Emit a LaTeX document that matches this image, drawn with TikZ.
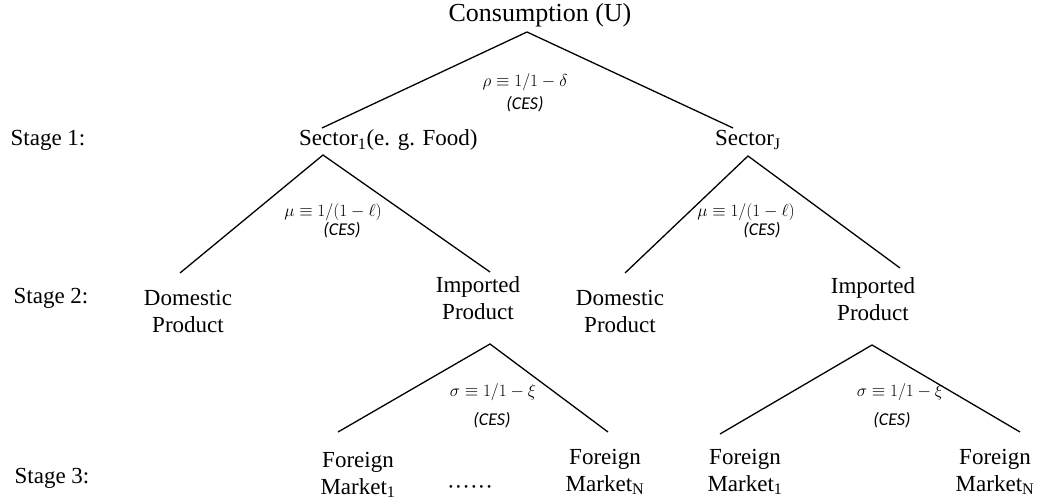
\documentclass[tikz,border=0pt]{standalone}
\usepackage{fontspec}
\setmainfont{Liberation Serif}
\newfontfamily\cesfont{Carlito}
\usetikzlibrary{positioning}

\begin{document}
\begin{tikzpicture}[x=1pt, y=-1pt,
    item/.style={align=center, inner sep=0pt, font=\fontsize{23}{27}\selectfont},
    stage/.style={inner sep=0pt, font=\fontsize{23}{27}\selectfont},
    elas/.style={inner sep=0pt, font=\fontsize{17}{20}\selectfont},
    ces/.style={inner sep=0pt, font=\cesfont\itshape\fontsize{18}{20}\selectfont},
    branch/.style={line width=1.3pt}]
      \useasboundingbox (0,0) rectangle (1044,502);
      %\draw [help lines] (0,0) grid [step=50] (1044,502);

      % level 0 and stage 1
      \node [item, font=\fontsize{26}{30}\selectfont] (cons) at (540,15) {Consumption (U)};
      \node [stage] (st1) at (48,140) {Stage 1:};
      \node [item, anchor=west] (sec1) at (299,140) {Sector\textsubscript{1}(e. g. Food)};
      \node [item, anchor=west] (secJ) at (715,140) {Sector\textsubscript{J}};
      \coordinate (a0) at (527,32);
      \coordinate (e01) at (322,128);
      \coordinate (e0J) at (733,128);
      \draw [branch] (e01) -- (a0) -- (e0J);
      \node [elas] (rho) at (525,82) {$\rho \equiv 1/1-\delta$};
      \node [ces] (ces0) at (525,104) {(CES)};

      % stage 2
      \node [stage] (st2) at (51,298) {Stage 2:};
      \node [item] (dom1) at (188,311) {Domestic\\Product};
      \node [item] (imp1) at (478,298) {Imported\\Product};
      \node [item] (dom2) at (620,311) {Domestic\\Product};
      \node [item] (imp2) at (873,299) {Imported\\Product};
      \coordinate (a1) at (323,155);
      \coordinate (e1d) at (180,273);
      \coordinate (e1i) at (490,272);
      \draw [branch] (e1d) -- (a1) -- (e1i);
      \node [elas] (mu1) at (333,212) {$\mu \equiv 1/(1-\ell)$};
      \node [ces] (ces1) at (342,230) {(CES)};
      \coordinate (a2) at (748,156);
      \coordinate (e2d) at (625,273);
      \coordinate (e2i) at (900,268);
      \draw [branch] (e2d) -- (a2) -- (e2i);
      \node [elas] (mu2) at (746,212) {$\mu \equiv 1/(1-\ell)$};
      \node [ces] (ces2) at (762,230) {(CES)};

      % stage 3
      \node [stage] (st3) at (52,478) {Stage 3:};
      \node [item] (fm11) at (358,475) {Foreign\\Market\textsubscript{1}};
      \node [item] (dots) at (470,490) {\textperiodcentered\textperiodcentered\textperiodcentered\textperiodcentered\textperiodcentered\textperiodcentered};
      \node [item] (fm1N) at (605,472) {Foreign\\Market\textsubscript{N}};
      \node [item] (fm21) at (745,472) {Foreign\\Market\textsubscript{1}};
      \node [item] (fm2N) at (995,472) {Foreign\\Market\textsubscript{N}};
      \coordinate (a3) at (490,344);
      \coordinate (e31) at (338,432);
      \coordinate (e3N) at (608,432);
      \draw [branch] (e31) -- (a3) -- (e3N);
      \node [elas] (sig1) at (493,392) {$\sigma \equiv 1/1-\xi$};
      \node [ces] (ces3) at (492,420) {(CES)};
      \coordinate (a4) at (872,345);
      \coordinate (e41) at (720,434);
      \coordinate (e4N) at (1020,432);
      \draw [branch] (e41) -- (a4) -- (e4N);
      \node [elas] (sig2) at (900,392) {$\sigma \equiv 1/1-\xi$};
      \node [ces] (ces4) at (892,420) {(CES)};
\end{tikzpicture}
\end{document}
